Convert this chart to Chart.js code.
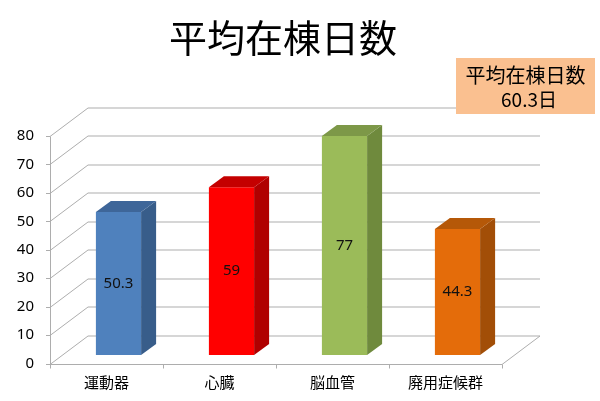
<!DOCTYPE html>
<html>
<head>
<meta charset="utf-8">
<script src="https://cdn.jsdelivr.net/npm/chart.js@4.4.0/dist/chart.umd.min.js"></script>
<style>
  html, body { margin: 0; padding: 0; background: #ffffff; }
  #wrap { width: 600px; height: 401px; position: relative; }
</style>
</head>
<body>
<div id="wrap"><canvas id="c"></canvas></div>
<script>
// ---- data ----
const titleText = '平均在棟日数';
const categories = ['運動器', '心臓', '脳血管', '廃用症候群'];
const values = [50.3, 59, 77, 44.3];
const yMin = 0;
const yMax = 80;
const yStep = 10;
const noteLines = ['平均在棟日数', '60.3日'];

// ---- styles ----
const frontColors = ['#4F81BD', '#FF0000', '#9BBB59', '#E46C0A'];
const sideColors  = ['#385D8A', '#B00000', '#6F8A3D', '#A24E07'];
const topColors   = ['#3E6699', '#C40000', '#7D9848', '#B55808'];
const gridColor = '#ADADAD';
const FONT = '"Noto Sans", "Noto Sans CJK JP", sans-serif';
const JFONT = '"Noto Sans CJK JP", "Noto Sans", sans-serif';

// 3D geometry constants (pixels)
const WALL_DX = 38, WALL_DY = -28.5;   // depth of the floor / side wall
const BAR_SHIFT_X = 12, BAR_SHIFT_Y = -8.5; // bars sit inside the depth
const BAR_DX = 15, BAR_DY = -11;       // depth of each bar

const wall3d = {
  id: 'wall3d',
  beforeDatasetsDraw(chart) {
    const ctx = chart.ctx;
    const ys = chart.scales.y, xs = chart.scales.x;
    const L = chart.chartArea.left, R = chart.chartArea.right;
    const y0 = ys.getPixelForValue(yMin);
    ctx.save();
    ctx.strokeStyle = gridColor;
    ctx.lineWidth = 1;
    for (let v = yMin; v <= yMax; v += yStep) {
      const y = Math.round(ys.getPixelForValue(v)) + 0.5;
      ctx.beginPath();
      ctx.moveTo(L, y);
      ctx.lineTo(L + WALL_DX, y + WALL_DY);
      ctx.lineTo(R + WALL_DX, y + WALL_DY);
      ctx.stroke();
      ctx.beginPath();
      ctx.moveTo(L - 4, y);
      ctx.lineTo(L, y);
      ctx.stroke();
    }
    const yTop = Math.round(ys.getPixelForValue(yMax)) + 0.5;
    const yb = Math.round(y0) + 0.5;
    ctx.beginPath();
    ctx.moveTo(L + 0.5, yTop);
    ctx.lineTo(L + 0.5, yb);
    ctx.stroke();
    ctx.beginPath();
    ctx.moveTo(L, yb);
    ctx.lineTo(R, yb);
    ctx.lineTo(R + WALL_DX, yb + WALL_DY);
    ctx.stroke();
    const n = categories.length;
    const step = (R - L) / n;
    for (let i = 0; i <= n; i++) {
      const x = Math.round(xs.getPixelForValue(i) - step / 2) + 0.5;
      ctx.beginPath();
      ctx.moveTo(x, yb);
      ctx.lineTo(x, yb + 4);
      ctx.stroke();
    }
    ctx.restore();
    ctx.save();
    ctx.translate(BAR_SHIFT_X, BAR_SHIFT_Y);
  },
  afterDatasetsDraw(chart) {
    const ctx = chart.ctx;
    const meta = chart.getDatasetMeta(0);
    meta.data.forEach((el, i) => {
      const p = el.getProps(['x', 'y', 'base', 'width'], true);
      const l = p.x - p.width / 2, r = p.x + p.width / 2;
      const t = p.y, b = p.base;
      ctx.fillStyle = sideColors[i];
      ctx.beginPath();
      ctx.moveTo(r, t);
      ctx.lineTo(r + BAR_DX, t + BAR_DY);
      ctx.lineTo(r + BAR_DX, b + BAR_DY);
      ctx.lineTo(r, b);
      ctx.closePath();
      ctx.fill();
      ctx.fillStyle = topColors[i];
      ctx.beginPath();
      ctx.moveTo(l, t);
      ctx.lineTo(l + BAR_DX, t + BAR_DY);
      ctx.lineTo(r + BAR_DX, t + BAR_DY);
      ctx.lineTo(r, t);
      ctx.closePath();
      ctx.fill();
      ctx.fillStyle = '#111111';
      ctx.font = '15px ' + FONT;
      ctx.textAlign = 'center';
      ctx.textBaseline = 'middle';
      ctx.fillText(String(values[i]), p.x, (t + b) / 2);
    });
    ctx.restore();
  },
  afterDraw(chart) {
    const ctx = chart.ctx;
    ctx.save();
    ctx.fillStyle = '#FAC090';
    ctx.fillRect(456, 58, 139, 56);
    ctx.fillStyle = '#000000';
    ctx.textAlign = 'center';
    ctx.textBaseline = 'middle';
    ctx.font = '20px ' + JFONT;
    ctx.fillText(noteLines[0], 525.5, 75);
    ctx.font = '19px ' + JFONT;
    ctx.fillText(noteLines[1], 529, 100);
    ctx.restore();
  }
};

new Chart(document.getElementById('c'), {
  type: 'bar',
  data: {
    labels: categories,
    datasets: [{
      data: values,
      backgroundColor: frontColors,
      borderWidth: 0,
      categoryPercentage: 1.0,
      barPercentage: 0.4,
      clip: false
    }]
  },
  options: {
    responsive: true,
    maintainAspectRatio: false,
    animation: false,
    devicePixelRatio: 1,
    layout: { padding: { top: 0, left: 0, right: 34, bottom: 0 } },
    plugins: {
      legend: { display: false },
      tooltip: { enabled: false },
      title: {
        display: true,
        text: titleText,
        color: '#000000',
        font: { family: JFONT, size: 38, weight: 400, lineHeight: 1.2 },
        padding: { top: 15, bottom: 75.4 }
      }
    },
    scales: {
      x: {
        grid: { display: false, drawTicks: false },
        border: { display: false },
        ticks: { color: '#000000', font: { family: JFONT, size: 15 }, padding: 10, maxRotation: 0 },
        afterFit(scale) { scale.height = 37.5; }
      },
      y: {
        min: yMin, max: yMax,
        grid: { display: false, drawTicks: false },
        border: { display: false },
        ticks: { stepSize: yStep, color: '#000000', font: { family: FONT, size: 15 }, padding: 16 },
        afterFit(scale) { scale.width = 50; }
      },
      yRight: {
        position: 'right',
        min: yMin, max: yMax,
        grid: { display: false, drawTicks: false },
        border: { display: false },
        ticks: { display: false },
        afterFit(scale) { scale.width = 64; }
      }
    }
  },
  plugins: [wall3d]
});
</script>
</body>
</html>
